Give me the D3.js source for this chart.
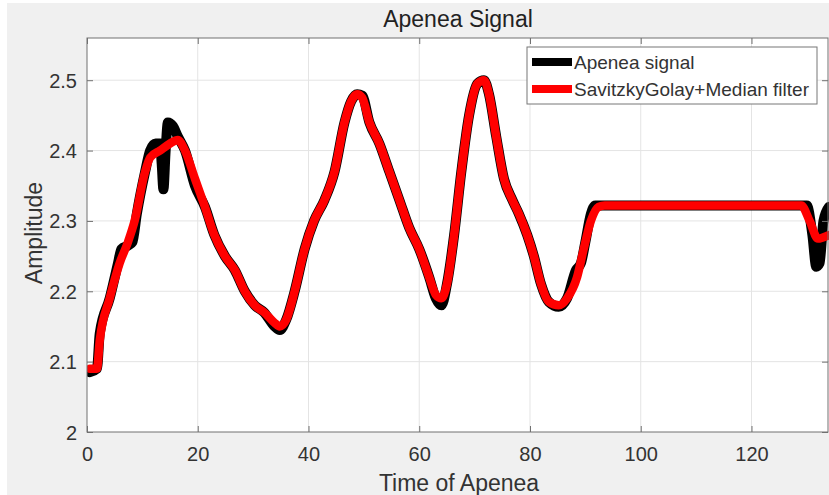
<!DOCTYPE html>
<html>
<head>
<meta charset="utf-8">
<script src="https://cdn.jsdelivr.net/npm/d3@7"></script>
<style>
  body { margin: 0; background: #fff; }
  svg { display: block; font-family: "Liberation Sans", Arial, sans-serif; }
</style>
</head>
<body>
<svg id="chart" width="829" height="495"></svg>
<script>
// Apenea signal vs. filtered (SavitzkyGolay + median) signal

const signalTime = [0.5, 1.8, 2.3, 4.1, 5.6, 6.2, 7.4, 8.2, 9.0, 10.5, 11.4, 12.4, 13.2, 13.5, 13.8, 14.2, 14.6, 15.5, 16.4, 17.7,
  19.5, 21.3, 23, 24.9, 26.7, 28.5, 30.3, 32, 33.9, 34.8, 36, 37.5, 39.3, 41, 42.9, 44.7, 46.5, 47.7, 48.8, 49.7,
  51, 52.8, 54.6, 56.4, 58.2, 60, 61.8, 63, 64, 65, 66.3, 67.6, 69, 70.5, 71.7, 72.6, 73.9, 75.3, 76.8, 78,
  79.5, 80.7, 82, 83.4, 85.2, 86.7, 88.3, 89.2, 90, 91, 91.8, 100, 110, 120, 130, 131, 131.7, 132.3, 133, 134];
const signalValue = [2.085, 2.09, 2.14, 2.19, 2.24, 2.26, 2.265, 2.27, 2.31, 2.37, 2.40, 2.41, 2.41, 2.38, 2.345, 2.40, 2.44, 2.435, 2.42, 2.40,
  2.35, 2.32, 2.28, 2.25, 2.23, 2.20, 2.18, 2.17, 2.15, 2.145, 2.16, 2.20, 2.26, 2.30, 2.33, 2.37, 2.44, 2.47, 2.48, 2.478,
  2.44, 2.41, 2.37, 2.33, 2.29, 2.26, 2.22, 2.19, 2.18, 2.21, 2.28, 2.37, 2.45, 2.495, 2.50, 2.48, 2.42, 2.36, 2.33, 2.31,
  2.28, 2.25, 2.21, 2.185, 2.178, 2.19, 2.23, 2.24, 2.27, 2.31, 2.322, 2.322, 2.322, 2.322, 2.322, 2.28, 2.235, 2.24, 2.30, 2.32];

const filterTime = [0.5, 1.8, 2.3, 4.1, 5.9, 7.4, 8.6, 10.5, 11.4, 13.2, 15, 16.4, 17.7, 19.5, 21.3, 23, 24.9, 26.7, 28.5, 30.3,
  32, 33.9, 34.8, 36, 37.5, 39.3, 41, 42.9, 44.7, 46.5, 47.7, 48.8, 49.7, 51, 52.8, 54.6, 56.4, 58.2, 60, 61.8,
  63, 64, 65, 66.3, 67.6, 69, 70.5, 71.7, 72.6, 73.9, 75.3, 76.8, 78, 79.5, 80.7, 82, 83.4, 85.2, 86.7, 88.5,
  89.7, 91, 92.4, 93.5, 110, 129, 130.5, 132, 134];
const filterValue = [2.09, 2.09, 2.13, 2.19, 2.24, 2.27, 2.30, 2.37, 2.39, 2.40, 2.41, 2.415, 2.40, 2.36, 2.32, 2.28, 2.25, 2.23, 2.20, 2.18,
  2.17, 2.155, 2.15, 2.16, 2.20, 2.26, 2.30, 2.33, 2.37, 2.44, 2.47, 2.48, 2.475, 2.44, 2.41, 2.37, 2.33, 2.29, 2.26, 2.22,
  2.195, 2.19, 2.21, 2.28, 2.37, 2.45, 2.495, 2.50, 2.48, 2.42, 2.36, 2.33, 2.31, 2.28, 2.25, 2.21, 2.185, 2.18, 2.19, 2.22,
  2.26, 2.30, 2.32, 2.322, 2.322, 2.322, 2.30, 2.275, 2.28];

const xTicks = [0, 20, 40, 60, 80, 100, 120];
const yTicks = [2, 2.1, 2.2, 2.3, 2.4, 2.5];
const legendLabels = ["Apenea signal", "SavitzkyGolay+Median filter"];

const W = 829, H = 495;
const mLeft = 87, mRight = 829, mTop = 38, mBottom = 432;

const svg = d3.select("#chart");

// figure background (MATLAB grey)
svg.append("rect").attr("width", W).attr("height", H).attr("fill", "#fff");
svg.append("rect").attr("x", 7).attr("y", 3).attr("width", W - 7).attr("height", H - 3).attr("fill", "#f0f0f0");

const x = d3.scaleLinear().domain([0, 134]).range([mLeft, mRight]);
const y = d3.scaleLinear().domain([2, 2.56]).range([mBottom, mTop]);

svg.append("rect")
  .attr("x", mLeft).attr("y", mTop)
  .attr("width", mRight - mLeft).attr("height", mBottom - mTop)
  .attr("fill", "#fff");

// grid
const grid = svg.append("g").attr("stroke", "#e4e4e4").attr("stroke-width", 1);
grid.selectAll("line.gx").data(xTicks.filter(d => d > 0)).join("line")
  .attr("x1", d => x(d)).attr("x2", d => x(d))
  .attr("y1", mTop).attr("y2", mBottom);
grid.selectAll("line.gy").data(yTicks.filter(d => d > 2)).join("line")
  .attr("y1", d => y(d)).attr("y2", d => y(d))
  .attr("x1", mLeft).attr("x2", mRight);

// lines
svg.append("clipPath").attr("id", "clip")
  .append("rect").attr("x", mLeft).attr("y", mTop).attr("width", mRight - mLeft).attr("height", mBottom - mTop);

const line = d3.line().x(d => x(d[0])).y(d => y(d[1])).curve(d3.curveMonotoneX);
const signal = signalTime.map((t, i) => [t, signalValue[i]]);
const filtered = filterTime.map((t, i) => [t, filterValue[i]]);

const plot = svg.append("g").attr("clip-path", "url(#clip)");
plot.append("path").datum(signal)
  .attr("d", line).attr("fill", "none")
  .attr("stroke", "#000").attr("stroke-width", 10)
  .attr("stroke-linejoin", "round").attr("stroke-linecap", "round");
plot.append("path").datum(filtered)
  .attr("d", line).attr("fill", "none")
  .attr("stroke", "#ff0000").attr("stroke-width", 8.5)
  .attr("stroke-linejoin", "round").attr("stroke-linecap", "round");

// axes (MATLAB style, ticks inside, box on)
const axisColor = "#707070";
const xAxis = svg.append("g").attr("transform", `translate(0,${mBottom})`)
  .call(d3.axisBottom(x).tickValues(xTicks).tickSize(-6).tickPadding(15).tickFormat(d3.format("d")));
const xTop = svg.append("g").attr("transform", `translate(0,${mTop})`)
  .call(d3.axisTop(x).tickValues(xTicks).tickSize(-6).tickFormat(""));
const yAxis = svg.append("g").attr("transform", `translate(${mLeft},0)`)
  .call(d3.axisLeft(y).tickValues(yTicks).tickSize(-6).tickPadding(10).tickFormat(d => d === 2 ? "2" : d3.format(".1f")(d)));
const yRight = svg.append("g").attr("transform", `translate(${mRight - 1},0)`)
  .call(d3.axisRight(y).tickValues(yTicks).tickSize(-6).tickFormat(""));

[xAxis, xTop, yAxis, yRight].forEach(g => {
  g.select(".domain").remove();
  g.selectAll(".tick line").attr("stroke", axisColor);
  g.selectAll("text").attr("fill", "#333").style("font-size", "20px");
});
yAxis.selectAll("text").attr("dy", "0.35em");

svg.append("rect")
  .attr("x", mLeft).attr("y", mTop)
  .attr("width", mRight - mLeft - 1).attr("height", mBottom - mTop)
  .attr("fill", "none").attr("stroke", axisColor).attr("stroke-width", 1);

// labels
svg.append("text").attr("x", 458).attr("y", 27).attr("text-anchor", "middle")
  .attr("fill", "#222").style("font-size", "23px").text("Apenea Signal");
svg.append("text").attr("x", 459).attr("y", 491).attr("text-anchor", "middle")
  .attr("fill", "#333").style("font-size", "23px").text("Time of Apenea");
svg.append("text").attr("transform", "translate(42,233) rotate(-90)").attr("text-anchor", "middle")
  .attr("fill", "#333").style("font-size", "23px").text("Amplitude");

// legend
const lg = svg.append("g").attr("transform", "translate(527,47)");
lg.append("rect").attr("width", 290).attr("height", 57)
  .attr("fill", "#fff").attr("stroke", "#777").attr("stroke-width", 1);
const legendColors = ["#000", "#ff0000"];
legendLabels.forEach((label, i) => {
  const cy = 15 + i * 27;
  lg.append("line").attr("x1", 5).attr("x2", 45).attr("y1", cy).attr("y2", cy)
    .attr("stroke", legendColors[i]).attr("stroke-width", 8);
  lg.append("text").attr("x", 47).attr("y", cy).attr("dy", "0.35em")
    .attr("fill", "#333").style("font-size", "19px").text(label);
});
</script>
</body>
</html>
